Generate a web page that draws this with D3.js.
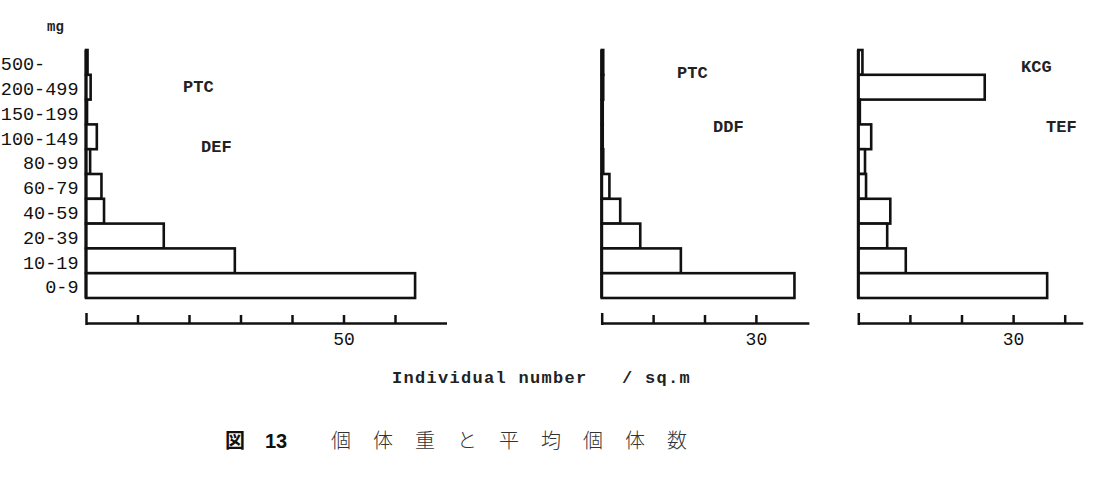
<!DOCTYPE html>
<html>
<head>
<meta charset="utf-8">
<script src="https://cdn.jsdelivr.net/npm/d3@7"></script>
<style>
  body { margin: 0; background: #fff; }
  svg { display: block; }
</style>
</head>
<body>
<div id="chart"></div>
<script>
// weight classes (mg), top to bottom
var categories = ["500-", "200-499", "150-199", "100-149", "80-99", "60-79", "40-59", "20-39", "10-19", "0-9"];

// individual number / sq.m for each plot
var ptcDef = [0.3, 0.9, 0.2, 2.1, 0.8, 3.0, 3.5, 15.1, 28.9, 63.9];
var ptcDdf = [0.3, 0.3, 0.2, 0.2, 0.3, 1.5, 3.6, 7.5, 15.4, 37.5];
var kcgTef = [0.8, 24.5, 0.3, 2.5, 1.3, 1.5, 6.2, 5.6, 9.2, 36.6];

var ticks1 = [0, 10, 20, 30, 40, 50, 60];
var ticks2 = [0, 10, 20, 30];
var ticks3 = [0, 10, 20, 30, 40];

var width = 1094, height = 480;
var mono = "'Liberation Mono', 'DejaVu Sans Mono', monospace";

var svg = d3.select("#chart").append("svg")
    .attr("width", width)
    .attr("height", height);

var y = d3.scaleBand()
    .domain(categories)
    .range([50, 298])
    .padding(0);

var axisY = 323;

var panels = [
    { values: ptcDef, x0: 86, unit: 5.15, end: 70, ticks: ticks1, label: 50,
      names: [["PTC", 183, 92], ["DEF", 201, 152]] },
    { values: ptcDdf, x0: 601.7, unit: 5.14, end: 40.3, ticks: ticks2, label: 30,
      names: [["PTC", 677, 78], ["DDF", 713, 132]] },
    { values: kcgTef, x0: 858.3, unit: 5.16, end: 43.5, ticks: ticks3, label: 30,
      names: [["KCG", 1021, 72], ["TEF", 1046, 132]] }
];

panels.forEach(function (p) {
    var x = d3.scaleLinear()
        .domain([0, p.end])
        .range([p.x0, p.x0 + p.end * p.unit]);

    var g = svg.append("g");

    // bars
    g.selectAll("rect")
        .data(p.values)
        .enter().append("rect")
        .attr("x", x(0))
        .attr("y", function (d, i) { return y(categories[i]); })
        .attr("width", function (d) { return x(d) - x(0); })
        .attr("height", y.bandwidth())
        .attr("fill", "#fff")
        .attr("stroke", "#111")
        .attr("stroke-width", 2.6);

    // vertical base line
    g.append("line")
        .attr("x1", x(0)).attr("x2", x(0))
        .attr("y1", y.range()[0]).attr("y2", y.range()[1])
        .attr("stroke", "#111")
        .attr("stroke-width", 3);

    // bottom axis, ticks pointing up
    var axis = d3.axisBottom(x)
        .tickValues(p.ticks)
        .tickSizeInner(-8)
        .tickSizeOuter(0)
        .tickPadding(9)
        .tickFormat(function (d) { return d === p.label ? d : ""; });

    var ax = g.append("g")
        .attr("transform", "translate(0," + axisY + ")")
        .call(axis);
    ax.select(".domain").attr("stroke", "#111").attr("stroke-width", 2.5);
    ax.selectAll(".tick line").attr("stroke", "#111").attr("stroke-width", 2.5);
    ax.selectAll(".tick").filter(function (d) { return d === 0; })
        .select("line").attr("y1", 2).attr("y2", -10);
    ax.selectAll(".tick text")
        .attr("font-family", mono)
        .attr("font-size", 18)
        .attr("fill", "#111");

    // plot names
    g.selectAll("text.name")
        .data(p.names)
        .enter().append("text")
        .attr("class", "name")
        .attr("x", function (d) { return d[1]; })
        .attr("y", function (d) { return d[2]; })
        .attr("font-family", mono)
        .attr("font-weight", "bold")
        .attr("font-size", 17)
        .attr("fill", "#222")
        .text(function (d) { return d[0]; });
});

// category labels
svg.append("g").selectAll("text")
    .data(categories)
    .enter().append("text")
    .attr("x", 78.5)
    .attr("y", function (d) { return y(d) + y.bandwidth() / 2; })
    .attr("dy", "0.42em")
    .attr("text-anchor", "end")
    .style("white-space", "pre")
    .attr("font-family", mono)
    .attr("font-size", 18.5)
    .attr("fill", "#111")
    .text(function (d) { return d === "500-" ? "500-   " : d; });

// unit label
svg.append("text")
    .attr("x", 47).attr("y", 31)
    .attr("font-family", mono)
    .attr("font-weight", "bold")
    .attr("font-size", 14)
    .attr("fill", "#222")
    .text("mg");

// x title
svg.append("text")
    .attr("x", 392).attr("y", 383)
    .attr("font-family", mono)
    .attr("font-weight", "bold")
    .attr("font-size", 17)
    .attr("letter-spacing", 1.3)
    .style("white-space", "pre")
    .attr("fill", "#222")
    .text("Individual number   / sq.m");

// caption
svg.append("text")
    .attr("x", 225).attr("y", 448)
    .attr("font-family", "'Noto Sans CJK JP', sans-serif")
    .attr("font-weight", "bold")
    .attr("font-size", 20)
    .attr("fill", "#111")
    .text("図");

svg.append("text")
    .attr("x", 265).attr("y", 448)
    .attr("font-family", "'Liberation Sans', Arial, sans-serif")
    .attr("font-weight", "bold")
    .attr("font-size", 20)
    .attr("fill", "#111")
    .text("13");

svg.append("text")
    .attr("x", 331).attr("y", 448)
    .attr("font-family", "'Noto Sans CJK JP', sans-serif")
    .attr("font-weight", 300)
    .attr("font-size", 20)
    .attr("letter-spacing", 22)
    .attr("fill", "#333")
    .text("個体重と平均個体数");
</script>
</body>
</html>
